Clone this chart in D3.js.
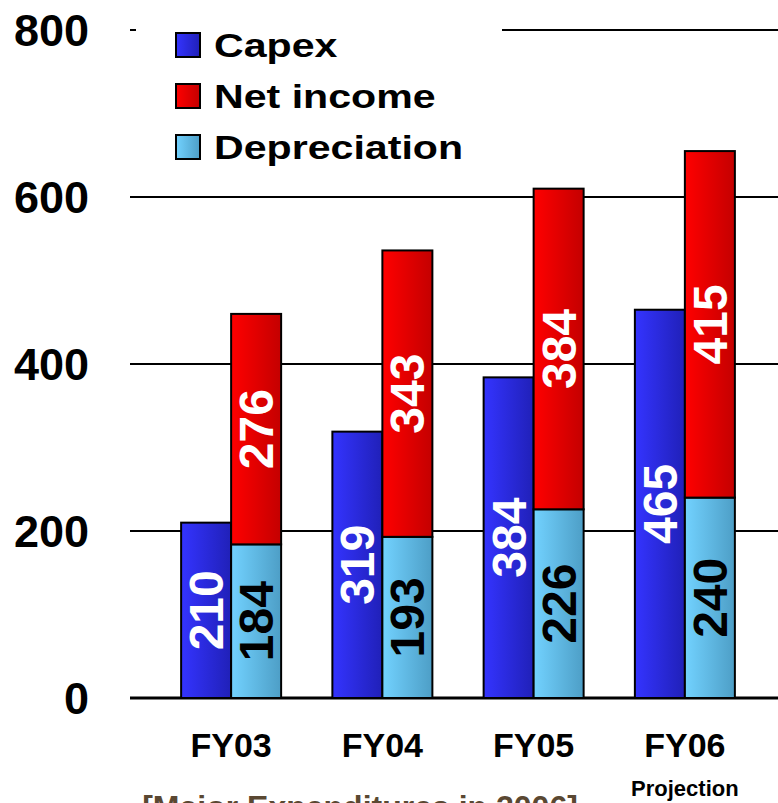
<!DOCTYPE html>
<html><head><meta charset="utf-8">
<script src="https://cdn.jsdelivr.net/npm/d3@7"></script>
<style>html,body{margin:0;padding:0;background:#fff;overflow:hidden}</style>
</head><body>
<svg id="chart" width="778" height="803"></svg>
<script>
const categories = ["FY03", "FY04", "FY05", "FY06"];
const capex = [210, 319, 384, 465];
const depreciation = [184, 193, 226, 240];
const netIncome = [276, 343, 384, 415];
const yTicks = [0, 200, 400, 600, 800];
const seriesNames = ["Capex", "Net income", "Depreciation"];
const subLabel = "Projection";
const footnote = "[Major Expenditures in 2006]";

const svg = d3.select("#chart");
const font = "'Liberation Sans', Arial, Helvetica, sans-serif";
const defs = svg.append("defs");
function grad(id, c1, c2) {
  const g = defs.append("linearGradient").attr("id", id).attr("x1", "0%").attr("x2", "100%").attr("y1", "0%").attr("y2", "0%");
  g.append("stop").attr("offset", "0%").attr("stop-color", c1);
  g.append("stop").attr("offset", "100%").attr("stop-color", c2);
}
grad("gBlue", "#3434ff", "#2020b8");
grad("gRed", "#ff0000", "#c40000");
grad("gLight", "#72d2ff", "#4d9ec6");

const y = d3.scaleLinear().domain([0, 800]).range([698, 30]);
const x = d3.scaleBand().domain(categories).range([155.5, 760.5]).padding(0);
const inner = d3.scaleBand().domain(["capex", "stack"]).range([-50, 50]);

// gridlines
svg.append("g").selectAll("line").data(yTicks).join("line")
  .attr("x1", 130).attr("x2", 778)
  .attr("y1", d => y(d)).attr("y2", d => y(d))
  .attr("stroke", "#000").attr("stroke-width", d => d === 0 ? 3 : 2);

// y labels
svg.append("g").selectAll("text").data(yTicks).join("text")
  .attr("x", 89).attr("y", d => y(d) + 16)
  .attr("text-anchor", "end")
  .attr("font-family", font).attr("font-weight", "bold").attr("font-size", 45)
  .text(d => d);

const data = categories.map((c, i) => ({c, capex: capex[i], dep: depreciation[i], net: netIncome[i]}));

const g = svg.append("g");
function seg(d, key, y0, y1, fill) {
  const cx = x(d.c) + x.bandwidth() / 2;
  g.append("rect")
    .attr("x", cx + inner(key)).attr("width", inner.bandwidth())
    .attr("y", y(y1)).attr("height", y(y0) - y(y1))
    .attr("fill", fill).attr("stroke", "#000").attr("stroke-width", 2);
}
function lbl(d, key, y0, y1, txt, color) {
  const cx = x(d.c) + x.bandwidth() / 2 + inner(key) + inner.bandwidth() / 2;
  const cy = (y(y0) + y(y1)) / 2;
  g.append("text")
    .attr("transform", `translate(${cx + 17},${cy}) rotate(-90)`)
    .attr("text-anchor", "middle")
    .attr("font-family", font).attr("font-weight", "bold").attr("font-size", 48)
    .attr("fill", color).text(txt);
}
data.forEach(d => {
  seg(d, "capex", 0, d.capex, "url(#gBlue)");
  seg(d, "stack", 0, d.dep, "url(#gLight)");
  seg(d, "stack", d.dep, d.dep + d.net, "url(#gRed)");
});
data.forEach(d => {
  lbl(d, "capex", 0, d.capex, d.capex, "#fff");
  lbl(d, "stack", 0, d.dep, d.dep, "#000");
  lbl(d, "stack", d.dep, d.dep + d.net, d.net, "#fff");
});

// category labels
svg.append("g").selectAll("text").data(categories).join("text")
  .attr("x", d => x(d) + x.bandwidth() / 2).attr("y", 757)
  .attr("text-anchor", "middle")
  .attr("font-family", font).attr("font-weight", "bold").attr("font-size", 34)
  .text(d => d);

svg.append("text")
  .attr("x", x("FY06") + x.bandwidth() / 2).attr("y", 796)
  .attr("text-anchor", "middle")
  .attr("font-family", font).attr("font-weight", "bold").attr("font-size", 22)
  .text(subLabel);

svg.append("text")
  .attr("x", 360).attr("y", 818)
  .attr("text-anchor", "middle")
  .attr("font-family", font).attr("font-weight", "bold").attr("font-size", 32)
  .attr("fill", "#5a4832")
  .text(footnote);

// legend
const leg = svg.append("g");
leg.append("rect").attr("x", 136).attr("y", 14).attr("width", 366).attr("height", 160).attr("fill", "#fff");
const legFills = ["url(#gBlue)", "url(#gRed)", "url(#gLight)"];
seriesNames.forEach((n, i) => {
  const cy = 45 + i * 51;
  leg.append("rect").attr("x", 176).attr("y", cy - 12).attr("width", 24).attr("height", 24)
    .attr("fill", legFills[i]).attr("stroke", "#000").attr("stroke-width", 2);
  leg.append("text")
    .attr("transform", `translate(214,${cy + 12}) scale(1.21,1)`)
    .attr("font-family", font).attr("font-weight", "bold").attr("font-size", 34)
    .text(n);
});
</script>
</body></html>
